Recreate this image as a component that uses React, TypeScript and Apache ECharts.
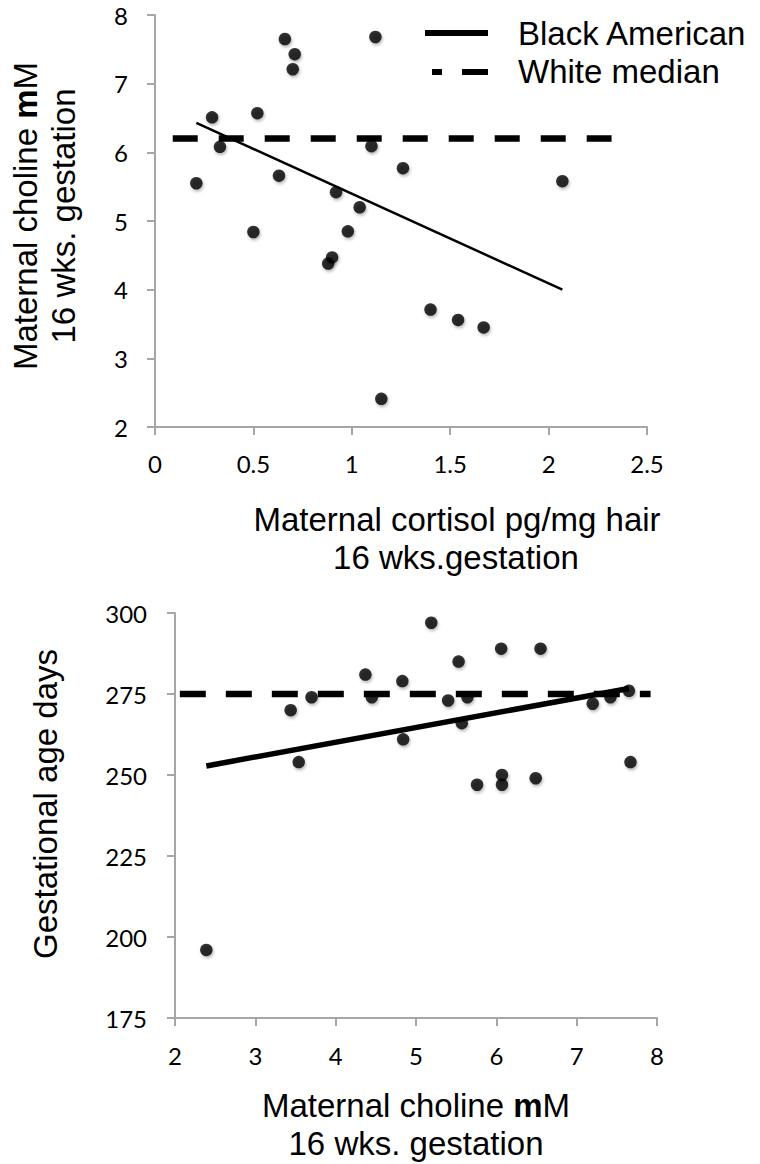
import React, { useEffect, useRef } from "react";
import * as echarts from "echarts";

// Top panel: maternal hair cortisol (pg/mg) vs maternal choline (mM)
const cortisolCholine: [number, number][] = [
  [0.21, 5.55], [0.29, 6.51], [0.33, 6.08], [0.5, 4.84], [0.52, 6.57],
  [0.63, 5.66], [0.66, 7.65], [0.7, 7.21], [0.71, 7.43], [0.88, 4.38],
  [0.9, 4.47], [0.92, 5.42], [0.98, 4.85], [1.04, 5.2], [1.1, 6.09],
  [1.12, 7.68], [1.15, 2.41], [1.26, 5.77], [1.4, 3.71], [1.54, 3.56],
  [1.67, 3.45], [2.07, 5.58],
];
const topTrend: [number, number][] = [[0.21, 6.43], [2.07, 4.0]];
const topWhiteMedian: [number, number][] = [[0.09, 6.2], [2.32, 6.2]];

// Bottom panel: maternal choline (mM) vs gestational age (days)
const cholineGestAge: [number, number][] = [
  [2.39, 196], [3.44, 270], [3.54, 254], [3.7, 274], [4.37, 281],
  [4.45, 274], [4.83, 279], [4.84, 261], [5.19, 297], [5.4, 273],
  [5.53, 285], [5.57, 266], [5.64, 274], [5.76, 247], [6.06, 289],
  [6.07, 250], [6.07, 247], [6.49, 249], [6.55, 289], [7.2, 272],
  [7.42, 274], [7.65, 276], [7.67, 254],
];
const bottomTrend: [number, number][] = [[2.39, 252.8], [7.65, 276.7]];
const bottomWhiteMedian: [number, number][] = [[2.06, 275], [7.92, 275]];

const legendNames = ["Black American", "White median"];

const AXIS_GRAY = "#a6a6a6";
const TITLE_FONT = "33px 'Liberation Sans', Arial, sans-serif";
const TICK_FONT = "Lato";

function valueAxis(gridIndex: number, min: number, max: number, interval: number, margin: number) {
  return {
    type: "value",
    gridIndex,
    min,
    max,
    interval,
    axisLine: { show: true, onZero: false, lineStyle: { color: AXIS_GRAY, width: 2 } },
    axisTick: { show: true, length: 8, lineStyle: { color: AXIS_GRAY, width: 2 } },
    splitLine: { show: false },
    axisLabel: { color: "#000", fontSize: 24, fontFamily: TICK_FONT, margin },
  };
}

const dotStyle = {
  color: "#000",
  shadowBlur: 3,
  shadowColor: "rgba(0,0,0,0.35)",
  shadowOffsetX: 1,
  shadowOffsetY: 2,
};

export default function App() {
  const ref = useRef<HTMLDivElement>(null);

  useEffect(() => {
    if (!ref.current) return;
    const chart = echarts.init(ref.current, undefined, { renderer: "svg" });
    const richTitle = {
      n: { font: TITLE_FONT, color: "#000" },
      b: { font: "bold " + TITLE_FONT, color: "#000" },
    };
    chart.setOption({
      animation: false,
      backgroundColor: "#ffffff",
      grid: [
        { left: 155, top: 15, width: 492, height: 412 },
        { left: 175, top: 613, width: 482, height: 405 },
      ],
      xAxis: [valueAxis(0, 0, 2.5, 0.5, 24), valueAxis(1, 2, 8, 1, 25)],
      yAxis: [valueAxis(0, 2, 8, 1, 27), valueAxis(1, 175, 300, 25, 28)],
      series: [
        {
          type: "line",
          name: legendNames[1],
          xAxisIndex: 0,
          yAxisIndex: 0,
          data: topWhiteMedian,
          symbol: "none",
          lineStyle: { color: "#000", width: 6.5, type: [25, 21] },
        },
        {
          type: "line",
          name: legendNames[0],
          xAxisIndex: 0,
          yAxisIndex: 0,
          data: topTrend,
          symbol: "none",
          lineStyle: { color: "#000", width: 2.5 },
        },
        {
          type: "scatter",
          xAxisIndex: 0,
          yAxisIndex: 0,
          data: cortisolCholine,
          symbolSize: 12.5,
          itemStyle: dotStyle,
        },
        {
          type: "line",
          name: legendNames[1],
          xAxisIndex: 1,
          yAxisIndex: 1,
          data: bottomWhiteMedian,
          symbol: "none",
          lineStyle: { color: "#000", width: 6.5, type: [26, 20] },
        },
        {
          type: "line",
          name: legendNames[0],
          xAxisIndex: 1,
          yAxisIndex: 1,
          data: bottomTrend,
          symbol: "none",
          lineStyle: { color: "#000", width: 5.5 },
        },
        {
          type: "scatter",
          xAxisIndex: 1,
          yAxisIndex: 1,
          data: cholineGestAge,
          symbolSize: 12.5,
          itemStyle: dotStyle,
        },
      ],
      graphic: [
        // legend
        { type: "line", shape: { x1: 425, y1: 33, x2: 488, y2: 33 }, style: { stroke: "#000", lineWidth: 6 } },
        { type: "line", shape: { x1: 432, y1: 72, x2: 442, y2: 72 }, style: { stroke: "#000", lineWidth: 6 } },
        { type: "line", shape: { x1: 462, y1: 72, x2: 488, y2: 72 }, style: { stroke: "#000", lineWidth: 6 } },
        { type: "text", x: 518, y: 33, style: { text: legendNames[0], font: TITLE_FONT, fill: "#000", verticalAlign: "middle", align: "left" } },
        { type: "text", x: 518, y: 71, style: { text: legendNames[1], font: TITLE_FONT, fill: "#000", verticalAlign: "middle", align: "left" } },
        // top y title
        {
          type: "text", x: 25, y: 216, rotation: Math.PI / 2,
          style: { text: "{n|Maternal choline }{b|m}{n|M}", rich: richTitle, font: TITLE_FONT, fill: "#000", align: "center", verticalAlign: "middle" },
        },
        {
          type: "text", x: 63, y: 216, rotation: Math.PI / 2,
          style: { text: "16 wks. gestation", font: TITLE_FONT, fill: "#000", align: "center", verticalAlign: "middle" },
        },
        // top x title
        { type: "text", x: 457, y: 519, style: { text: "Maternal cortisol pg/mg hair", font: TITLE_FONT, fill: "#000", align: "center", verticalAlign: "middle" } },
        { type: "text", x: 456, y: 557, style: { text: "16 wks.gestation", font: TITLE_FONT, fill: "#000", align: "center", verticalAlign: "middle" } },
        // bottom y title
        {
          type: "text", x: 45, y: 804, rotation: Math.PI / 2,
          style: { text: "Gestational age days", font: TITLE_FONT, fill: "#000", align: "center", verticalAlign: "middle" },
        },
        // bottom x title
        {
          type: "text", x: 416, y: 1105,
          style: { text: "{n|Maternal choline }{b|m}{n|M}", rich: richTitle, font: TITLE_FONT, fill: "#000", align: "center", verticalAlign: "middle" },
        },
        { type: "text", x: 416, y: 1143, style: { text: "16 wks. gestation", font: TITLE_FONT, fill: "#000", align: "center", verticalAlign: "middle" } },
      ],
    });
    return () => chart.dispose();
  }, []);

  return (
    <div
      ref={ref}
      style={{ position: "absolute", left: 0, top: 0, width: 760, height: 1164, background: "#fff" }}
    />
  );
}
